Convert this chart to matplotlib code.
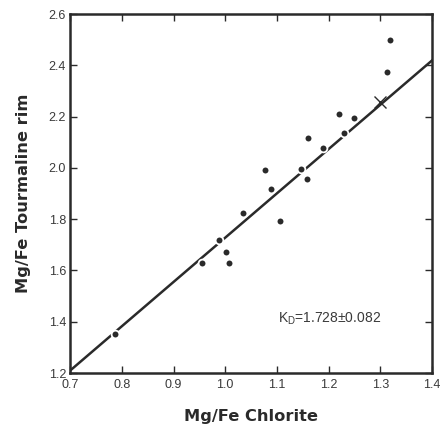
"""Mg/Fe tourmaline rim vs Mg/Fe chlorite with K_D fit line."""
import matplotlib
matplotlib.use('Agg')
import matplotlib.pyplot as plt
import numpy as np

chlorite = [0.787, 0.956, 0.988, 1.002, 1.007, 1.035, 1.077, 1.089, 1.106,
            1.146, 1.158, 1.160, 1.189, 1.220, 1.230, 1.249, 1.312, 1.319]
tourmaline = [1.352, 1.628, 1.720, 1.673, 1.628, 1.826, 1.992, 1.916, 1.793,
              1.994, 1.955, 2.117, 2.078, 2.209, 2.137, 2.196, 2.375, 2.501]

# mean composition marked with a cross
mean_x = [1.300]
mean_y = [2.258]

kd = 1.728
kd_err = 0.082

x_ticks = [0.7, 0.8, 0.9, 1.0, 1.1, 1.2, 1.3, 1.4]
y_ticks = [1.2, 1.4, 1.6, 1.8, 2.0, 2.2, 2.4, 2.6]

ink = '#2a2a2a'
plt.rcParams['font.family'] = ['Liberation Sans', 'DejaVu Sans']

fig = plt.figure(figsize=(4.44, 4.28), dpi=100)
ax = fig.add_axes([0.158, 0.1285, 0.815, 0.8385])

# fit line through origin, slope = K_D
xs = np.array([0.7, 1.4])
ax.plot(xs, kd * xs, color=ink, linewidth=1.8, zorder=2)

ax.plot(chlorite, tourmaline, linestyle='none', marker='o', markersize=5.6,
        markerfacecolor=ink, markeredgecolor='white',
        markeredgewidth=1.3, zorder=3)
ax.plot(mean_x, mean_y, linestyle='none', marker='x', markersize=8,
        color=ink, markeredgewidth=1.0, zorder=4)

ax.text(1.102, 1.41, f'K$_\\mathregular{{D}}$={kd:.3f}±{kd_err:.3f}',
        fontsize=10, color='#3a3a3a', va='center', ha='left')

ax.set_xlim(0.7, 1.4)
ax.set_ylim(1.2, 2.6)
ax.set_xticks(x_ticks)
ax.set_yticks(y_ticks)
ax.set_xticklabels([f'{v:.1f}' for v in x_ticks])
ax.set_yticklabels([f'{v:.1f}' for v in y_ticks])
ax.tick_params(direction='in', length=5, width=1.0, top=True, right=True,
               labelsize=9, labelcolor='#3a3a3a', color=ink)
ax.tick_params(axis='x', pad=4)
ax.tick_params(axis='y', pad=3)
for sp in ax.spines.values():
    sp.set_linewidth(1.8)
    sp.set_color(ink)

ax.set_xlabel('Mg/Fe Chlorite', fontsize=11.7, fontweight='bold',
              family='DejaVu Sans', color=ink, labelpad=13)
ax.set_ylabel('Mg/Fe Tourmaline rim', fontsize=11.7, fontweight='bold',
              family='DejaVu Sans', color=ink, labelpad=13)

fig.savefig('out.png', dpi=100)
